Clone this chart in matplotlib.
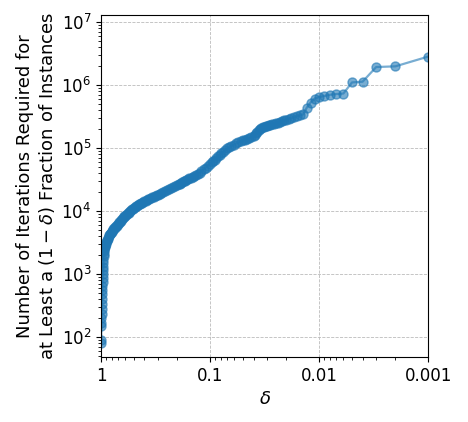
import matplotlib
matplotlib.use("Agg")
import matplotlib.pyplot as plt
from matplotlib.ticker import FixedLocator, FixedFormatter, LogLocator, NullFormatter

# fraction of instances (delta) and iterations needed
delta = [1.000, 0.998, 0.996, 0.994, 0.992, 0.990, 0.988, 0.985, 0.982, 0.979,
         0.976, 0.973, 0.970, 0.967, 0.964, 0.961, 0.958, 0.955, 0.952, 0.949,
         0.946, 0.943, 0.940, 0.935, 0.930, 0.925, 0.920, 0.910, 0.900, 0.890,
         0.880, 0.870, 0.860, 0.850, 0.840, 0.830, 0.820, 0.810, 0.800, 0.790,
         0.780, 0.770, 0.760, 0.750, 0.740, 0.730, 0.720, 0.710, 0.700, 0.690,
         0.680, 0.670, 0.660, 0.650, 0.640, 0.630, 0.620, 0.610, 0.600, 0.590,
         0.580, 0.570, 0.560, 0.550, 0.540, 0.530, 0.520, 0.510, 0.500, 0.490,
         0.480, 0.470, 0.460, 0.450, 0.440, 0.430, 0.420, 0.410, 0.400, 0.390,
         0.380, 0.370, 0.360, 0.350, 0.340, 0.330, 0.320, 0.310, 0.300, 0.290,
         0.280, 0.270, 0.260, 0.250, 0.240, 0.230, 0.220, 0.210, 0.200, 0.195,
         0.190, 0.185, 0.180, 0.175, 0.170, 0.165, 0.160, 0.155, 0.150, 0.145,
         0.140, 0.135, 0.130, 0.125, 0.120, 0.115, 0.110, 0.105, 0.100, 0.097,
         0.094, 0.091, 0.088, 0.085, 0.082, 0.079, 0.076, 0.073, 0.070, 0.067,
         0.064, 0.061, 0.058, 0.055, 0.052, 0.050, 0.048, 0.046, 0.044, 0.042,
         0.040, 0.039, 0.038, 0.037, 0.036, 0.035, 0.034, 0.033, 0.032, 0.031,
         0.030, 0.029, 0.028, 0.027, 0.026, 0.025, 0.024, 0.023, 0.022, 0.021,
         0.020, 0.019, 0.018, 0.017, 0.016, 0.015, 0.014, 0.013, 0.012, 0.011,
         0.010, 0.009, 0.008, 0.007, 0.006, 0.005, 0.004, 0.003, 0.002, 0.001]

iterations = [80, 90, 150, 165, 200, 230, 280, 330, 400, 480,
              560, 650, 750, 850, 1000, 1150, 1300, 1500, 1700, 1900,
              2100, 2300, 2450, 2600, 2700, 2800, 2900, 3050, 3200, 3350,
              3500, 3650, 3800, 3950, 4100, 4250, 4400, 4550, 4700, 4850,
              5000, 5150, 5300, 5450, 5600, 5750, 5900, 6050, 6200, 6400,
              6600, 6800, 7000, 7250, 7500, 7750, 8000, 8250, 8500, 8750,
              9000, 9250, 9500, 9800, 10100, 10400, 10700, 11000, 11300, 11600,
              11900, 12200, 12500, 12800, 13100, 13400, 13700, 14000, 14300, 14600,
              15000, 15400, 15800, 16200, 16600, 17000, 17400, 17800, 18300, 18800,
              19400, 20000, 20700, 21400, 22200, 23000, 24000, 25000, 26000, 26700,
              27400, 28100, 28800, 29600, 30400, 31300, 32200, 33200, 34200, 35300,
              36400, 37600, 39000, 41000, 43000, 46000, 49000, 53000, 57000, 60000,
              63000, 66000, 70000, 74000, 78000, 83000, 88000, 93000, 99000, 104000,
              109000, 114000, 119000, 124000, 129000, 133000, 137000, 141000, 145000, 150000,
              155000, 162000, 172000, 184000, 196000, 205000, 211000, 216000, 220000, 224000,
              228000, 232000, 236000, 240000, 245000, 250000, 256000, 262000, 269000, 276000,
              284000, 292000, 300000, 310000, 322000, 332000, 345000, 440000, 530000, 615000,
              650000, 675000, 705000, 725000, 740000, 1110000, 1140000, 1950000, 2000000, 2860000]

xtick_vals = [1, 0.1, 0.01, 0.001]
xtick_labels = ["1", "0.1", "0.01", "0.001"]

plt.rcParams['font.family'] = ['DejaVu Sans']
plt.rcParams['font.size'] = 12

fig = plt.figure(figsize=(4.68, 4.22), dpi=100)
ax = fig.add_axes([0.216, 0.154, 0.699, 0.810])

ax.plot(delta, iterations, 'o-', color='#1f77b4', alpha=0.6, markersize=6.5, linewidth=1.6)

ax.set_xscale('log')
ax.set_yscale('log')
ax.set_xlim(1, 0.001)
ax.set_ylim(48, 1.3e7)

ax.xaxis.set_major_locator(FixedLocator(xtick_vals))
ax.xaxis.set_major_formatter(FixedFormatter(xtick_labels))
ax.xaxis.set_minor_locator(LogLocator(base=10, subs=range(2, 10), numticks=20))
ax.xaxis.set_minor_formatter(NullFormatter())
ax.yaxis.set_major_locator(LogLocator(base=10, numticks=20))
ax.yaxis.set_minor_locator(LogLocator(base=10, subs=range(2, 10), numticks=20))
ax.yaxis.set_minor_formatter(NullFormatter())

ax.grid(True, which='major', linestyle='--', color='#bbbbbb', linewidth=0.6)

ax.set_xlabel(r'$\delta$', fontsize=13)
ax.set_ylabel('Number of Iterations Required for\nat Least a $(1-\\delta)$ Fraction of Instances',
              fontsize=13, labelpad=3)

fig.savefig('out.png', dpi=100)
